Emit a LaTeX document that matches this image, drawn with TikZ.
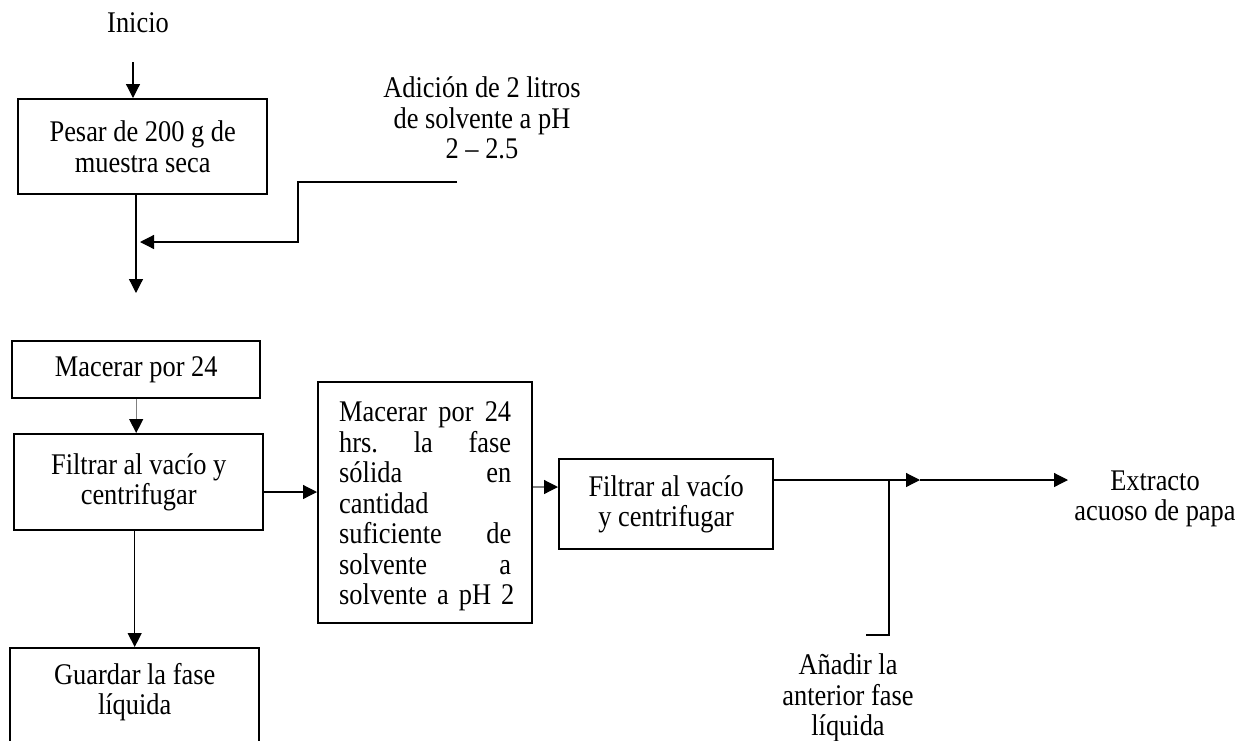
\documentclass[tikz,border=0pt]{standalone}
\usepackage{fontspec}
\setmainfont{Liberation Serif}[FakeStretch=0.88]
\usetikzlibrary{arrows.meta}
\newcommand{\jline}[1]{\makebox[172pt][s]{#1}}
\begin{document}
\begin{tikzpicture}[x=1pt,y=-1pt,
  font=\fontsize{30}{30.5}\selectfont,
  box/.style={draw=black, line width=2.4pt, anchor=north west, inner sep=0pt, align=center},
  lab/.style={align=center, inner sep=0pt},
  arr/.style={line width=1.2pt, -{Triangle[length=14pt,width=14pt,color=black]}},
  ln/.style={line width=1.2pt},
  grey/.style={draw=black!50}]
\clip (0,0) rectangle (1235,740);
\fill[white] (0,0) rectangle (1235,740);

\node[lab] (ini) at (138,23) {Inicio};
\node[box, minimum width=249pt, minimum height=95pt] (pesar) at (17,98) {Pesar de 200 g de\\muestra seca};
\node[lab] (adic) at (482,118) {Adición de 2 litros\\de solvente a pH\\2 -- 2.5};
\node[box, minimum width=248pt, minimum height=57pt] (mac1) at (11,340) {Macerar por 24};
\node[box, minimum width=249pt, minimum height=96pt] (fil1) at (13,433) {Filtrar al vacío y\\centrifugar};
\node[box, minimum width=249pt, inner ysep=15pt] (guard) at (9,647) {Guardar la fase\\líquida\rule[-60pt]{0pt}{0pt}};
\node[box, minimum width=214pt, minimum height=241pt, text width=172pt, align=left] (mac2) at (317,381) {%
\jline{\rule{0pt}{27pt}Macerar\hfill por\hfill 24}\\
\jline{hrs.\hfill la\hfill fase}\\
\jline{sólida\hfill en}\\
cantidad\\
\jline{suficiente\hfill de}\\
\jline{solvente\hfill a}\\
\mbox{solvente a pH 2}\rule[-4pt]{0pt}{0pt}};
\node[box, minimum width=214pt, minimum height=90pt] (fil2) at (558,458) {Filtrar al vacío\\y centrifugar};
\node[lab] (ext) at (1155,499) {Extracto\\acuoso de papa};
\node[lab] (anad) at (848,698) {Añadir la\\anterior fase\\líquida};

\coordinate (a0) at (133,62);
\coordinate (j1) at (136,293);
\coordinate (s1) at (457,182);
\coordinate (j2) at (140,242);
\coordinate (h1) at (0,492);
\coordinate (h2) at (0,487);
\coordinate (m2) at (920,480);
\coordinate (e1) at (1068,480);
\coordinate (c3) at (866,635);
\coordinate (jv) at (889,480);

\draw[arr] (a0) -- (a0 |- pesar.north);
\draw[arr] (pesar.south -| j1) -- (j1);
\draw[arr] (s1) -- (298,182) |- (j2);
\draw[arr, grey] (mac1.south) -- (mac1.south |- fil1.north);
\draw[arr] (guard.north |- fil1.south) -- (guard.north);
\draw[arr] (fil1.east |- h1) -- (mac2.west |- h1);
\draw[arr, grey] (mac2.east |- h2) -- (fil2.west |- h2);
\draw[arr] (fil2.east |- m2) -- (m2);
\draw[arr] (m2) -- (e1);
\draw[ln] (c3) -| (jv);
\end{tikzpicture}
\end{document}
